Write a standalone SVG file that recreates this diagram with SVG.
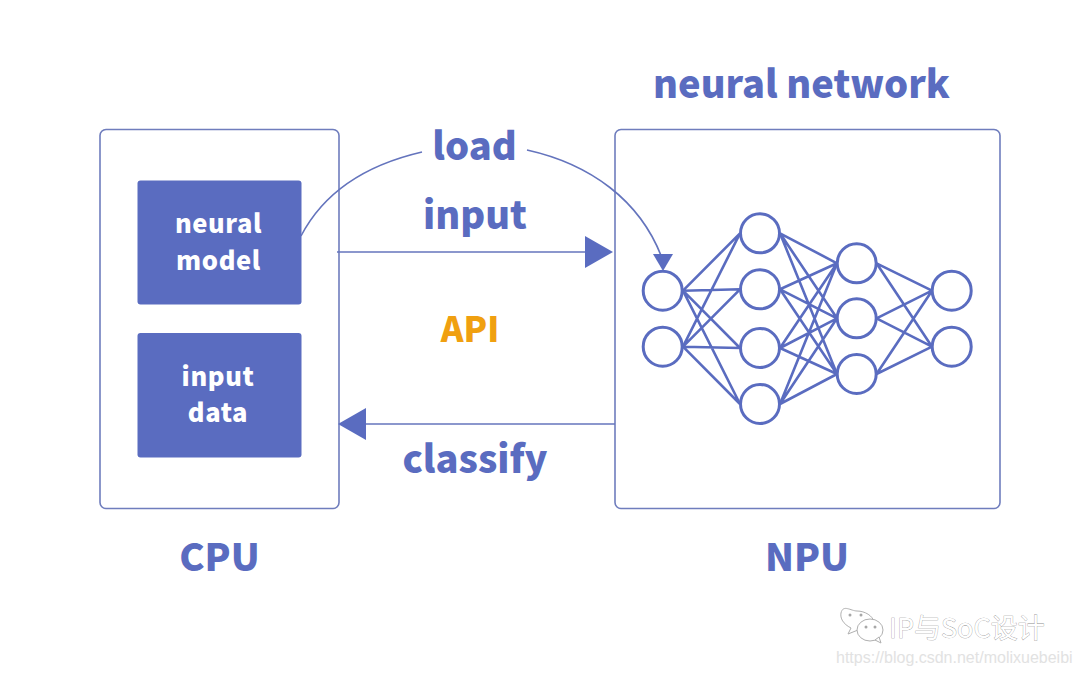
<svg xmlns="http://www.w3.org/2000/svg" width="1080" height="676" viewBox="0 0 1080 676">
<style>
.box{fill:#fff;stroke:#6f7dbd;stroke-width:1.6}
.fill{fill:#5a6cc0}
.lbl{font-family:"Noto Sans CJK SC","Noto Sans",sans-serif;font-weight:900;fill:#5a6cc0;text-anchor:middle}
.in{fill:#fff;font-size:25.500px;letter-spacing:.6px}
.n{fill:#fff;stroke:#5a6cc0;stroke-width:3}
.e{stroke:#5a6cc0;stroke-width:2.6;fill:none}
.t{stroke:#6474bd;stroke-width:1.6;fill:none}
.wm{font-family:"Noto Sans CJK SC","Noto Sans",sans-serif;font-size:27px;fill:#fff;stroke:#8c8c8c;stroke-width:.6;paint-order:stroke}
.ic{fill:#fff;stroke:#b0b0b0;stroke-width:1}
.dot{fill:#a8a8a8}
</style>
<rect width="1080" height="676" fill="#fff"/>
<g id="cpu"><rect class="box" x="100" y="129.500" width="239" height="379" rx="6"/><text class="lbl" x="219.500" y="571" font-size="38">CPU</text></g>
<g id="npu"><rect class="box" x="615" y="129.500" width="385" height="379" rx="6"/><text class="lbl" x="807" y="571" font-size="38">NPU</text></g>
<g id="neural-model"><rect class="fill" x="137.500" y="180.500" width="164" height="124" rx="3"/><text class="lbl in" x="218.500" y="233">neural</text><text class="lbl in" x="218.500" y="270">model</text></g>
<g id="input-data"><rect class="fill" x="137.500" y="333" width="164" height="124.500" rx="3"/><text class="lbl in" x="218" y="386">input</text><text class="lbl in" x="218" y="422">data</text></g>
<g id="connectors">
<path class="t" d="M301 236C325 190 370 164 422 152"/>
<path class="t" d="M527 150C590 164 640 200 662 258"/>
<polygon class="fill" points="653,254 673,254 663,271"/>
<path class="t" d="M337 252H590"/>
<polygon class="fill" points="585,236 613,252 585,268"/>
<path class="t" d="M362 424H615"/>
<polygon class="fill" points="338,424 366,408 366,440"/>
<g id="edges">
<path class="e" d="M683 290.700L740 233.300M683 290.700L740 289.300M683 290.700L740 348M683 290.700L740 404M683 346.700L740 233.300M683 346.700L740 289.300M683 346.700L740 348M683 346.700L740 404"/>
<path class="e" d="M780 233.300L837 263.300M780 233.300L837 318.300M780 233.300L837 374M780 289.300L837 263.300M780 289.300L837 318.300M780 289.300L837 374M780 348L837 263.300M780 348L837 318.300M780 348L837 374M780 404L837 263.300M780 404L837 318.300M780 404L837 374"/>
<path class="e" d="M876.500 263.300L932 290.700M876.500 263.300L932 346.700M876.500 318.300L932 290.700M876.500 318.300L932 346.700M876.500 374L932 290.700M876.500 374L932 346.700"/>
</g>
</g>
<g id="nodes">
<circle id="a1" class="n" cx="662.700" cy="290.700" r="19.500"/>
<circle id="a2" class="n" cx="662.700" cy="346.700" r="19.500"/>
<circle id="b1" class="n" cx="760" cy="233.300" r="19.500"/>
<circle id="b2" class="n" cx="760" cy="289.300" r="19.500"/>
<circle id="b3" class="n" cx="760" cy="348" r="19.500"/>
<circle id="b4" class="n" cx="760" cy="404" r="19.500"/>
<circle id="c1" class="n" cx="856.700" cy="263.300" r="19.500"/>
<circle id="c2" class="n" cx="856.700" cy="318.300" r="19.500"/>
<circle id="c3" class="n" cx="856.700" cy="374" r="19.500"/>
<circle id="d1" class="n" cx="951.700" cy="290.700" r="19.500"/>
<circle id="d2" class="n" cx="951.700" cy="346.700" r="19.500"/>
</g>
<g id="labels">
<text class="lbl" x="801.500" y="98" font-size="38">neural network</text>
<text class="lbl" x="474.500" y="160" font-size="38">load</text>
<text class="lbl" x="475" y="229" font-size="38">input</text>
<text class="lbl" x="470" y="342" font-size="34.500" style="fill:#f0a010">API</text>
<text class="lbl" x="475" y="473" font-size="38">classify</text>
</g>
<g id="watermark">
<path class="ic" d="M848 634L851 628C843 624 840 618 841 613C843 604 851 611 857 611C865 611 873 616 874 622L858 630Z"/>
<ellipse class="ic" cx="870" cy="630" rx="13" ry="11"/>
<path class="ic" d="M875 640L881 643L879 637Z"/>
<circle class="dot" cx="850" cy="615" r="1.500"/><circle class="dot" cx="861" cy="615" r="1.500"/>
<circle class="dot" cx="866" cy="627" r="1.500"/><circle class="dot" cx="875" cy="627" r="1.500"/>
<text class="wm" x="889" y="638">IP与SoC设计</text>
<text x="836" y="663" font-family="Liberation Sans,sans-serif" font-size="16" fill="#e2e2e2">https://blog.csdn.net/molixuebeibi</text>
</g>
</svg>
